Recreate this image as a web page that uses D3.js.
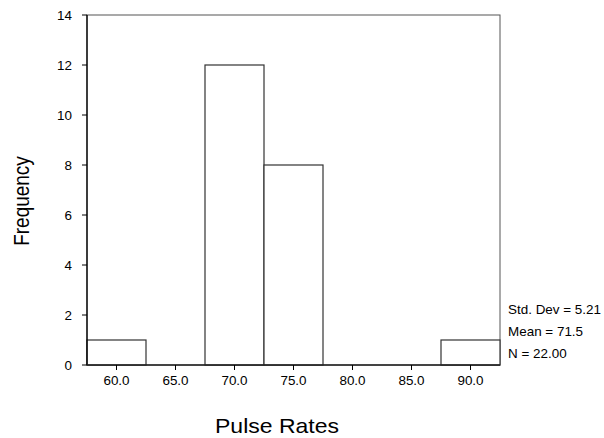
<!DOCTYPE html>
<html>
<head>
  <meta charset="UTF-8">
  <script src="https://d3js.org/d3.v7.min.js"></script>
  <style>
    body { margin: 0; background: #fff; }
    text { font-family: "Liberation Sans", Arial, sans-serif; fill: #000; }
  </style>
</head>
<body>
  <svg width="604" height="438"></svg>
  <script>
    // data
    const binCenters = [60, 65, 70, 75, 80, 85, 90];
    const counts = [1, 0, 12, 8, 0, 0, 1];
    const binWidth = 5;
    const xTickLabels = ["60.0", "65.0", "70.0", "75.0", "80.0", "85.0", "90.0"];
    const yTicks = [0, 2, 4, 6, 8, 10, 12, 14];
    const stats = ["Std. Dev = 5.21", "Mean = 71.5", "N = 22.00"];

    const svg = d3.select("svg");
    const plotL = 87, plotR = 500, plotT = 15, plotB = 365;
    const sx = 1.12; // text looks stretched sideways in the original

    const x = d3.scaleLinear().domain([57.5, 92.5]).range([plotL, plotR]);
    const y = d3.scaleLinear().domain([0, 14]).range([plotB, plotT]);

    // frame
    svg.append("rect")
      .attr("x", plotL).attr("y", plotT)
      .attr("width", plotR - plotL).attr("height", plotB - plotT)
      .attr("fill", "none").attr("stroke", "#555").attr("stroke-width", 1);

    // bars
    svg.selectAll("rect.bar")
      .data(binCenters.map((c, i) => ({ c: c, n: counts[i] })).filter(d => d.n > 0))
      .enter().append("rect")
      .attr("class", "bar")
      .attr("x", d => x(d.c - binWidth / 2))
      .attr("y", d => y(d.n))
      .attr("width", d => x(d.c + binWidth / 2) - x(d.c - binWidth / 2))
      .attr("height", d => y(0) - y(d.n))
      .attr("fill", "#fff").attr("stroke", "#333").attr("stroke-width", 1.2);

    // left + bottom axis lines
    svg.append("line").attr("x1", plotL).attr("x2", plotL).attr("y1", plotT).attr("y2", plotB)
      .attr("stroke", "#000").attr("stroke-width", 1.3);
    svg.append("line").attr("x1", plotL).attr("x2", plotR).attr("y1", plotB).attr("y2", plotB)
      .attr("stroke", "#222").attr("stroke-width", 1.3);

    // y axis ticks and labels
    yTicks.forEach(v => {
      svg.append("line").attr("x1", plotL - 5).attr("x2", plotL).attr("y1", y(v)).attr("y2", y(v))
        .attr("stroke", "#000");
      svg.append("text")
        .attr("transform", `translate(72,${y(v) + 4.5}) scale(${sx},1)`)
        .attr("text-anchor", "end").attr("font-size", 12)
        .text(v);
    });

    // x axis ticks and labels
    binCenters.forEach((c, i) => {
      svg.append("line").attr("x1", x(c)).attr("x2", x(c)).attr("y1", plotB).attr("y2", plotB + 5)
        .attr("stroke", "#000");
      svg.append("text")
        .attr("transform", `translate(${x(c)},385) scale(${sx},1)`)
        .attr("text-anchor", "middle").attr("font-size", 12)
        .text(xTickLabels[i]);
    });

    // stats box text
    stats.forEach((s, i) => {
      svg.append("text")
        .attr("transform", `translate(508,${314 + i * 22}) scale(${sx},1)`)
        .attr("font-size", 12)
        .text(s);
    });

    // axis titles
    svg.append("text")
      .attr("transform", `translate(277,433) scale(1.15,1)`)
      .attr("text-anchor", "middle").attr("font-size", 20)
      .text("Pulse Rates");
    svg.append("text")
      .attr("transform", `translate(29,201) scale(${sx},1) rotate(-90)`)
      .attr("text-anchor", "middle").attr("font-size", 19)
      .text("Frequency");
  </script>
</body>
</html>
